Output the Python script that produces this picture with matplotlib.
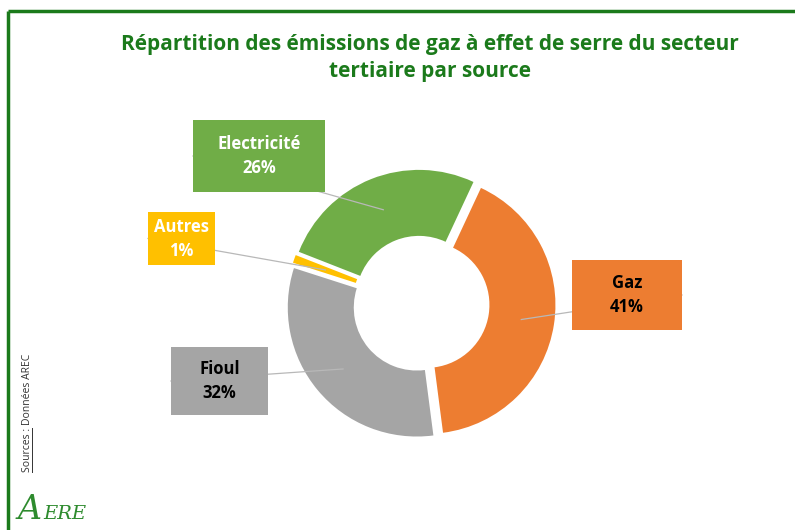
import numpy as np
import matplotlib.pyplot as plt
from matplotlib.patches import Rectangle

# répartition des émissions GES du tertiaire par source (%)
sources = ["Gaz", "Fioul", "Autres", "Electricité"]
parts = [41, 32, 1, 26]
couleurs = ["#ED7D31", "#A5A5A5", "#FFC000", "#70AD47"]
couleurs_texte = ["black", "black", "white", "white"]

H = 530
vert = "#1B7A1B"

fig = plt.figure(figsize=(7.95, 5.3), dpi=100)
ax = fig.add_axes([0, 0, 1, 1])

cx, cy = 421, H - 304
r_ext, r_int = 129, 63

# l'explosion de pie() est en unités de données (pixels ici)
wedges, _ = ax.pie(parts, colors=couleurs, startangle=65, counterclock=False,
                   radius=r_ext, center=(cx, cy), explode=[5.5] * 4,
                   wedgeprops=dict(width=r_ext - r_int, edgecolor="none"))

ax.set_xlim(0, 795)
ax.set_ylim(0, H)
ax.set_aspect("equal")
ax.axis("off")

# boîtes d'étiquettes (x, y haut, largeur, hauteur) en pixels
boites = {
    "Gaz": (572, 260, 110, 70),
    "Fioul": (171, 347, 97, 68),
    "Autres": (148, 212, 67, 53),
    "Electricité": (193, 120, 132, 72),
}

for w, nom, val, c, ct in zip(wedges, sources, parts, couleurs, couleurs_texte):
    x, yh, bw, bh = boites[nom]
    ax.add_patch(Rectangle((x, H - yh - bh), bw, bh, facecolor=c,
                           edgecolor="none", zorder=3))
    xm = x + bw / 2
    ym = H - yh - bh / 2
    ax.text(xm, ym + 12, nom, ha="center", va="center", color=ct,
            fontsize=12, fontweight="bold", family="Open Sans", zorder=4)
    ax.text(xm, ym - 12, f"{val}%", ha="center", va="center", color=ct,
            fontsize=12, fontweight="bold", family="Open Sans", zorder=4)

    # trait de rappel vers le milieu de l'anneau
    a = np.deg2rad((w.theta1 + w.theta2) / 2)
    px = w.center[0] + (r_ext + r_int) / 2 * np.cos(a)
    py = w.center[1] + (r_ext + r_int) / 2 * np.sin(a)
    bx = x if px > x else x + bw
    ax.plot([bx, px], [ym, py], color="#B8B8B8", lw=0.9, zorder=2)

ax.text(430, H - 58, "Répartition des émissions de gaz à effet de serre du secteur\ntertiaire par source",
        ha="center", va="center", color=vert, fontsize=15, fontweight="bold",
        family="Open Sans", linespacing=1.35)

# cadre vert
ax.plot([8, 795], [H - 11, H - 11], color=vert, lw=2.5, solid_capstyle="butt")
ax.plot([8, 8], [H - 11, 0], color=vert, lw=2.5, solid_capstyle="butt")

# source en vertical
t1 = ax.text(28, H - 472, "Sources :", rotation=90, ha="center", va="bottom",
             fontsize=7.5, family="Open Sans", color="#333333")
fig.canvas.draw()
bb = t1.get_window_extent().transformed(ax.transData.inverted())
ax.text(28, bb.y1 + 3, "Données AREC", rotation=90, ha="center", va="bottom",
        fontsize=7.5, family="Open Sans", color="#333333")
ax.plot([bb.x1 - 1.5, bb.x1 - 1.5], [bb.y0, bb.y1], color="#333333", lw=0.7)

# logo
ax.text(18, H - 510, "A", fontsize=24, style="italic", family="DejaVu Serif",
        color="#2E8B2E", va="center", ha="left")
ax.text(43, H - 514, "ERE", fontsize=14, style="italic", family="DejaVu Serif",
        color="#2E8B2E", va="center", ha="left")

fig.savefig("out.png", dpi=100)
